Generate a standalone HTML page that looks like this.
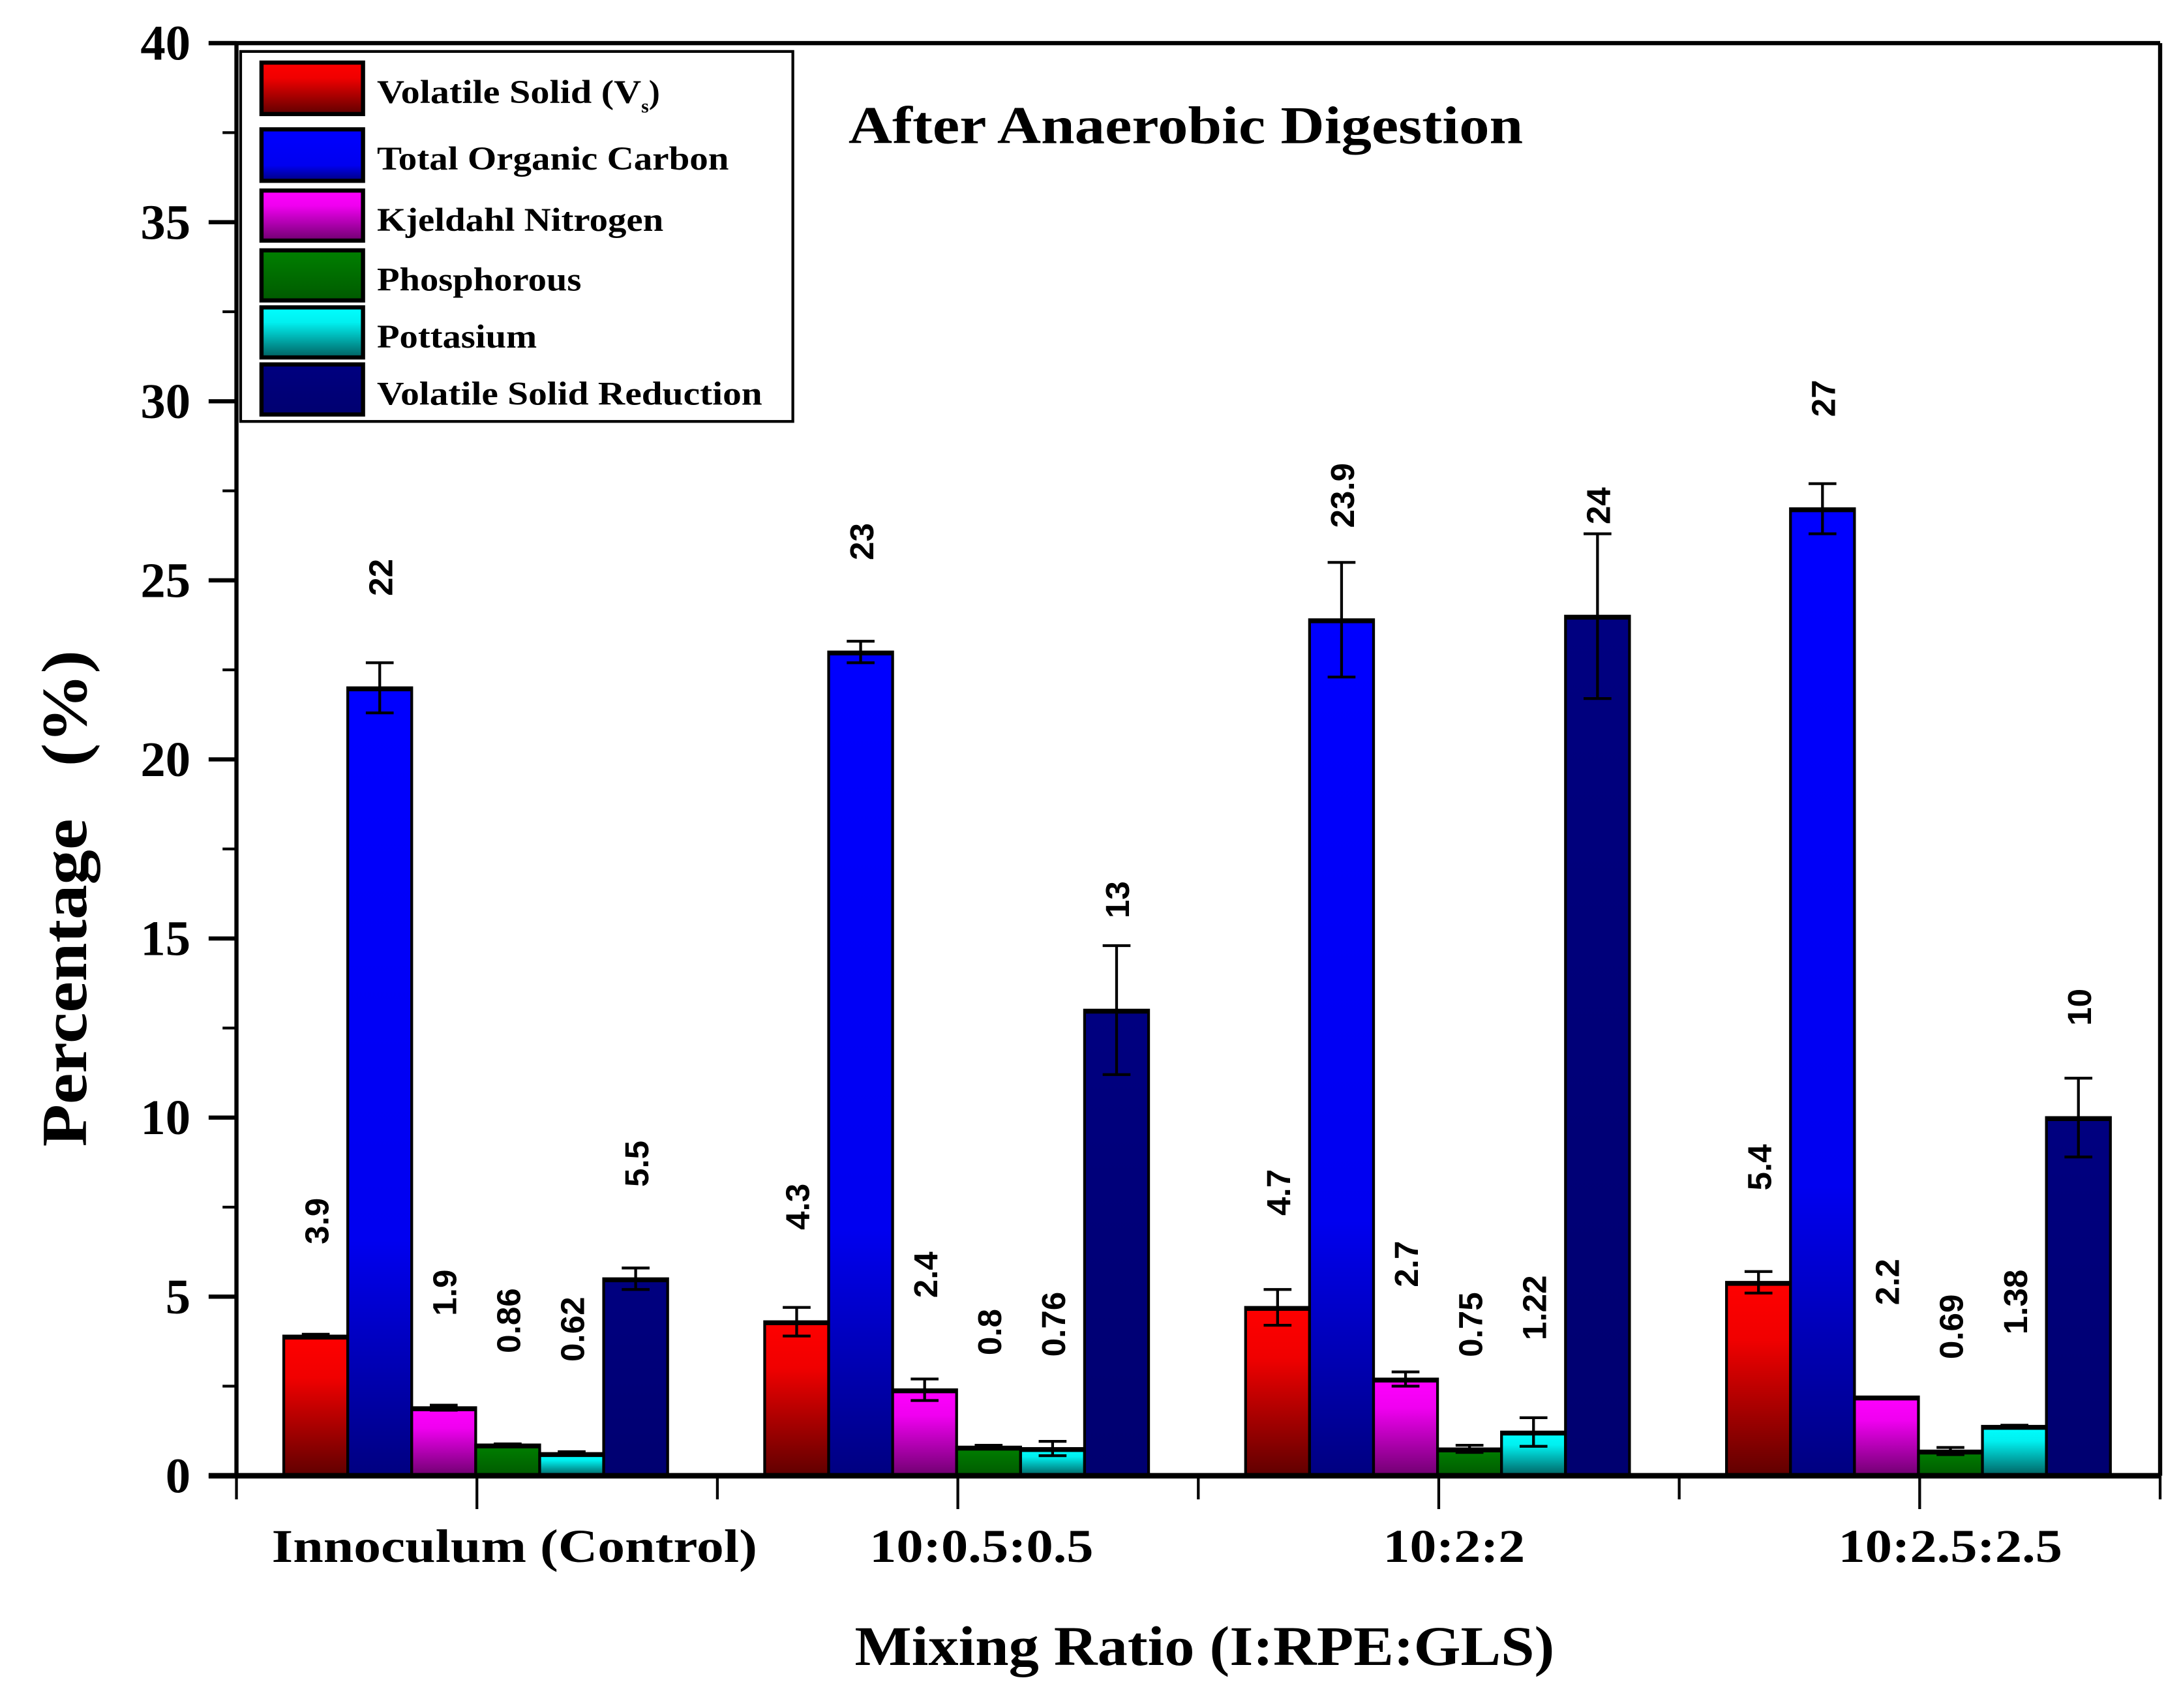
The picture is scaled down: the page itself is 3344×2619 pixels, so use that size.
<!DOCTYPE html>
<html><head><meta charset="utf-8"><style>
html,body{margin:0;padding:0;background:#fff;}
svg{display:block;}
.serif{font-family:"Liberation Serif",serif;font-weight:bold;}
.sans{font-family:"Liberation Sans",sans-serif;font-weight:bold;}
</style></head><body>
<svg id="chart" width="3344" height="2619" viewBox="0 0 1568 1228" preserveAspectRatio="none" xmlns="http://www.w3.org/2000/svg">
<defs>
<linearGradient id="gRed" x1="0" y1="0" x2="0" y2="1"><stop offset="0" stop-color="#ff0000"/><stop offset="0.3" stop-color="#f00000"/><stop offset="1" stop-color="#600000"/></linearGradient>
<linearGradient id="gBlue" x1="0" y1="0" x2="0" y2="1"><stop offset="0" stop-color="#0000ff"/><stop offset="0.7" stop-color="#0000f0"/><stop offset="1" stop-color="#000080"/></linearGradient>
<linearGradient id="gMag" x1="0" y1="0" x2="0" y2="1"><stop offset="0" stop-color="#ff00ff"/><stop offset="0.3" stop-color="#f000f0"/><stop offset="1" stop-color="#700070"/></linearGradient>
<linearGradient id="gGreen" x1="0" y1="0" x2="0" y2="1"><stop offset="0" stop-color="#008000"/><stop offset="1" stop-color="#005a00"/></linearGradient>
<linearGradient id="gCyan" x1="0" y1="0" x2="0" y2="1"><stop offset="0" stop-color="#00ffff"/><stop offset="0.3" stop-color="#00f0f0"/><stop offset="1" stop-color="#006060"/></linearGradient>
<linearGradient id="gNavy" x1="0" y1="0" x2="0" y2="1"><stop offset="0" stop-color="#000080"/><stop offset="1" stop-color="#000070"/></linearGradient>
</defs>
<g id="axes"></g>
<g id="bars"></g>
<g id="legend">
<rect x="173" y="37" width="397" height="266" fill="#fff" stroke="#000" stroke-width="2"/>
</g>
<text class="serif" x="610" y="103" font-size="38" textLength="485" lengthAdjust="spacingAndGlyphs">After Anaerobic Digestion</text>
<text class="serif" transform="translate(62,646) rotate(-90)" text-anchor="middle" font-size="46" textLength="357" lengthAdjust="spacingAndGlyphs" xml:space="preserve">Percentage   (%)</text>
<text class="serif" x="866" y="1197" text-anchor="middle" font-size="40" textLength="503" lengthAdjust="spacingAndGlyphs">Mixing Ratio (I:RPE:GLS)</text>
</svg>
<script>
const categories = ["Innoculum (Control)", "10:0.5:0.5", "10:2:2", "10:2.5:2.5"];
const seriesNames = ["Volatile Solid (Vs)", "Total Organic Carbon", "Kjeldahl Nitrogen", "Phosphorous", "Pottasium", "Volatile Solid Reduction"];
const vsValues = [3.9, 4.3, 4.7, 5.4];
const tocValues = [22, 23, 23.9, 27];
const knValues = [1.9, 2.4, 2.7, 2.2];
const pValues = [0.86, 0.8, 0.75, 0.69];
const kValues = [0.62, 0.76, 1.22, 1.38];
const vsrValues = [5.5, 13, 24, 10];
const vsErr = [0.05, 0.4, 0.5, 0.3];
const tocErr = [0.7, 0.3, 1.6, 0.7];
const knErr = [0.07, 0.3, 0.2, 0];
const pErr = [0.03, 0.05, 0.1, 0.1];
const kErr = [0.05, 0.2, 0.4, 0.03];
const vsrErr = [0.3, 1.8, 2.3, 1.1];
const yTicks = [0, 5, 10, 15, 20, 25, 30, 35, 40];

const NS = "http://www.w3.org/2000/svg";
const X0 = 170, X1 = 1553, Y0 = 1061, Y1 = 31, YMAX = 40;
const groupW = (X1 - X0) / categories.length;
const barW = 46, barOff = 34;
function yScale(v){ return Y0 - (v / YMAX) * (Y0 - Y1); }
function groupX(i){ return X0 + i * groupW; }
function barX(g, s){ return groupX(g) + barOff + s * barW; }
function mk(tag, attrs, parent){ const e = document.createElementNS(NS, tag); for (const k in attrs) e.setAttribute(k, attrs[k]); parent.appendChild(e); return e; }

const axes = document.getElementById('axes');
const bars = document.getElementById('bars');
const legend = document.getElementById('legend');
const series = [
  {vals: vsValues, err: vsErr, fill: "url(#gRed)"},
  {vals: tocValues, err: tocErr, fill: "url(#gBlue)"},
  {vals: knValues, err: knErr, fill: "url(#gMag)"},
  {vals: pValues, err: pErr, fill: "url(#gGreen)"},
  {vals: kValues, err: kErr, fill: "url(#gCyan)"},
  {vals: vsrValues, err: vsrErr, fill: "url(#gNavy)"}
];

let ln = mk('line', {x1: 150, y1: Y1, x2: X1, y2: Y1, stroke: "#000", "stroke-width": 3}, axes);


ln = mk('line', {x1: X0, y1: Y1, x2: X0, y2: Y0, stroke: "#000", "stroke-width": 3}, axes);


ln = mk('line', {x1: X1, y1: Y1, x2: X1, y2: Y0, stroke: "#000", "stroke-width": 3}, axes);



yTicks.forEach((t, i) => {
  const y = yScale(t);
  const tk = mk('line', {x1: 150, y1: y, x2: X0, y2: y, stroke: "#000", "stroke-width": 3}, axes);
  
  
  if (i < yTicks.length - 1) {
    const ym = yScale(t + 2.5);
    const mt = mk('line', {x1: 160, y1: ym, x2: X0, y2: ym, stroke: "#000", "stroke-width": 2}, axes);
    
    
  }
  const lb = mk('text', {x: 137, y: y + 12, "text-anchor": "end", "font-size": 36, class: "serif"}, axes);
  lb.textContent = t;
  
  
});

for (let i = 0; i <= categories.length; i++) {
  const x = groupX(i);
  const tk = mk('line', {x1: x, y1: Y0, x2: x, y2: 1078, stroke: "#000", "stroke-width": 2}, axes);
  
  
}
const labelDx = [27, 17, 11, 22];
const labelLen = [349, 161, 102, 161];
categories.forEach((c, i) => {
  const cx = groupX(i) + groupW / 2;
  const tk = mk('line', {x1: cx, y1: Y0, x2: cx, y2: 1085, stroke: "#000", "stroke-width": 2}, axes);
  
  
  const lb = mk('text', {x: cx + labelDx[i], y: 1123, "text-anchor": "middle", "font-size": 34, class: "serif", textLength: labelLen[i], lengthAdjust: "spacingAndGlyphs"}, axes);
  lb.textContent = c;
  
  
});

series.forEach((s, si) => {
  s.vals.forEach((v, gi) => {
    const x = barX(gi, si), y = yScale(v);
    const r = mk('rect', {x: x, y: y, width: barW, height: Y0 - y, fill: s.fill, stroke: "#000", "stroke-width": 2}, bars);
    
    
    const cap = mk('line', {x1: x, y1: y + 1, x2: x + barW, y2: y + 1, stroke: "#000", "stroke-width": 3}, bars);
    
    
    const e = s.err[gi];
    if (e > 0) {
      const cx = x + barW / 2, yt = yScale(v + e), yb = yScale(v - e);
      const g = mk('path', {d: `M${cx - 10},${yt}H${cx + 10}M${cx},${yt}V${yb}M${cx - 10},${yb}H${cx + 10}`, stroke: "#000", "stroke-width": 2, fill: "none"}, bars);
      
      
    }
    const lx = x + barW / 2 + 9, ly = y - 66;
    const t = mk('text', {transform: `translate(${lx},${ly}) rotate(-90)`, "font-size": 24, class: "sans"}, bars);
    t.textContent = v;
    
    
  });
});

ln = mk('line', {x1: 150, y1: Y0, x2: X1, y2: Y0, stroke: "#000", "stroke-width": 4}, bars);



const legY = [45, 93, 137, 180, 221, 262];
const legH = [37, 37, 36, 36, 36, 36];
const legLen = [190, 253, 206, 147, 115, 277];
series.forEach((s, i) => {
  const sw = mk('rect', {x: 188, y: legY[i], width: 73, height: legH[i], fill: s.fill, stroke: "#000", "stroke-width": 3}, legend);
  
  
  const t = mk('text', {x: 271, y: legY[i] + 29, "font-size": 24, class: "serif"}, legend);
  if (i === 0) {
    t.textContent = "";
    const a = document.createElementNS(NS, 'tspan');
    a.setAttribute('textLength', legLen[0]); a.setAttribute('lengthAdjust', 'spacingAndGlyphs');
    a.textContent = "Volatile Solid (V";
    t.appendChild(a);
    const sub = document.createElementNS(NS, 'tspan');
    sub.setAttribute('font-size', 14); sub.setAttribute('dy', 7); sub.textContent = "s";
    t.appendChild(sub);
    const cl = document.createElementNS(NS, 'tspan');
    cl.setAttribute('dy', -7); cl.textContent = ")";
    t.appendChild(cl);
  } else {
    t.textContent = seriesNames[i];
    t.setAttribute('textLength', legLen[i]);
    t.setAttribute('lengthAdjust', 'spacingAndGlyphs');
  }
  
  
});
</script>
</body></html>
